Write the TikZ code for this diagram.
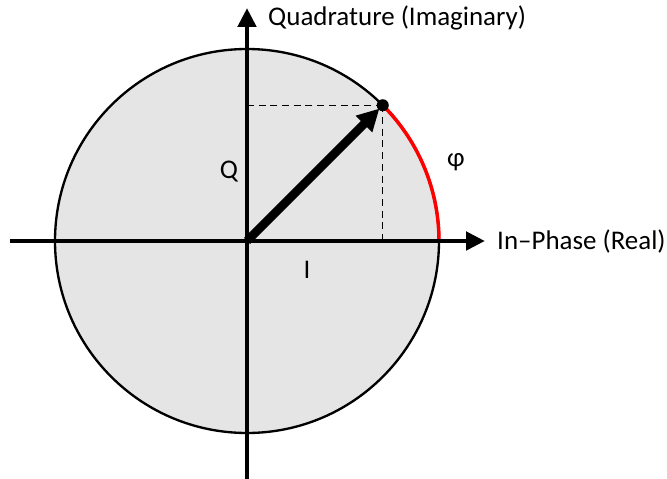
\documentclass[tikz,border=0pt]{standalone}
\usepackage{fontspec}
\setmainfont{Carlito}
\usetikzlibrary{arrows.meta,positioning,calc}

\begin{document}
\begin{tikzpicture}[x=0.03cm, y=0.03cm,
  axis/.style={-{Triangle[length=0.57cm,width=0.54cm]}, line width=4.2pt},
  vec/.style={-{Triangle[length=0.66cm,width=0.66cm]}, line width=7.5pt, shorten >=4pt},
  guide/.style={line width=0.9pt, dash pattern=on 6pt off 4pt},
  lbl/.style={font=\fontsize{23}{27}\selectfont, inner sep=0pt},
]
\useasboundingbox (-247,-238) rectangle (420,241);
\coordinate (O) at (0,0);
\coordinate (P) at (45:192);

% unit circle
\fill[black!10] (O) circle (192);
\draw[line width=2pt] (O) circle (192);
\draw[red, line width=3pt] (0:192) arc (0:45:192);

% projections
\draw[guide] (P) -- (P -| O);
\draw[guide] (P) -- (P |- O);

% axes
\coordinate (xl) at (-237,0);
\coordinate (xr) at (238,0);
\coordinate (yb) at (0,-240);
\coordinate (yt) at (0,233);
\draw[axis] (xl) -- (xr);
\draw[axis] (yb) -- (yt);

% phasor
\draw[vec] (O) -- (P);
\fill (P) circle (6);

% labels
\node[lbl, anchor=west] (imag) at (21,223) {Quadrature (Imaginary)};
\node[lbl, anchor=west] (real) at (250,-1) {In–Phase (Real)};
\node[lbl] (q) at (-18,69) {Q};
\node[lbl] (i) at (60,-29) {I};
\node[lbl] (phi) at (209,79) {φ};
\end{tikzpicture}
\end{document}
